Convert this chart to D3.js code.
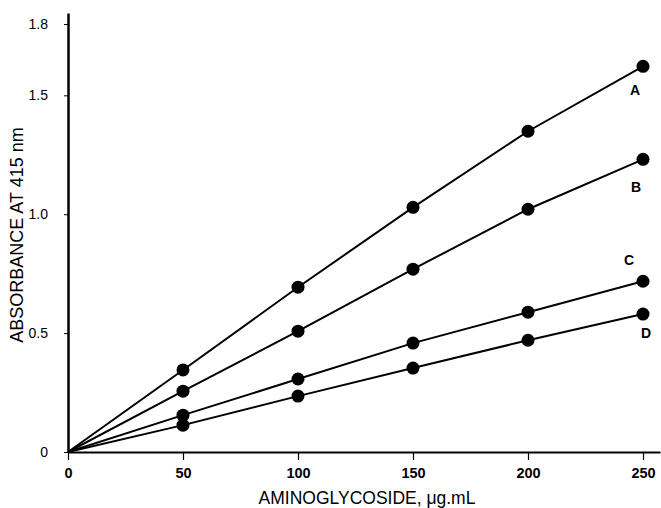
<!DOCTYPE html>
<html>
<head>
<meta charset="utf-8">
<script src="https://cdn.jsdelivr.net/npm/d3@7"></script>
<style>
  body { margin: 0; background: #fff; }
  svg { display: block; font-family: "Liberation Sans", Arial, sans-serif; }
</style>
</head>
<body>
<div id="chart"></div>
<script>
(function lineChart(){

  //data
  var doses = [0, 50, 100, 150, 200, 250];
  var seriesA = [0, 0.345, 0.693, 1.029, 1.349, 1.622];
  var seriesB = [0, 0.256, 0.508, 0.769, 1.021, 1.231];
  var seriesC = [0, 0.155, 0.307, 0.458, 0.588, 0.718];
  var seriesD = [0, 0.113, 0.235, 0.353, 0.470, 0.580];
  var seriesNames = ['A', 'B', 'C', 'D'];
  var xTicks = [0, 50, 100, 150, 200, 250];
  var yTicks = [0, 0.5, 1.0, 1.5, 1.8];

  var series = [seriesA, seriesB, seriesC, seriesD].map(function(vals, i){
    return {name: seriesNames[i], values: vals.map(function(v, j){ return {x: doses[j], y: v}; })};
  });

  //label offsets from the last point (style only)
  var labelOffset = {A: [-8, 29], B: [-7, 33], C: [-14, -16], D: [3, 24]};

  var width = 661, height = 508;
  var x = d3.scaleLinear().domain([0, 250]).range([68, 643]);
  var y = d3.scaleLinear().domain([0, 1.8]).range([452, 24]);

  var svg = d3.select('#chart')
    .append('svg')
    .attr('width', width)
    .attr('height', height);

  //axes (longer lines than the data range)
  var xAxisScale = x.copy().domain([0, x.invert(660)]).range([68, 660]);
  var yAxisScale = y.copy().domain([0, y.invert(13)]).range([452, 13]);

  var xAxis = svg.append('g')
    .attr('transform', 'translate(0,' + y(0) + ')')
    .call(d3.axisBottom(xAxisScale).tickValues(xTicks).tickSize(8).tickSizeOuter(0).tickPadding(8));
  xAxis.select('.domain').attr('stroke-width', 2);
  xAxis.selectAll('.tick line').attr('stroke-width', 1.2);
  xAxis.selectAll('text')
    .style('font-size', '14.5px')
    .style('font-weight', 'bold')
    .attr('fill', '#000');

  var yAxis = svg.append('g')
    .attr('transform', 'translate(' + x(0) + ',0)')
    .call(d3.axisLeft(yAxisScale).tickValues(yTicks).tickSize(4).tickSizeOuter(0).tickPadding(16)
      .tickFormat(function(d){ return d === 0 ? '0' : d3.format('.1f')(d); }));
  yAxis.select('.domain').attr('stroke-width', 2.5);
  yAxis.selectAll('text')
    .style('font-size', '14px')
    .attr('fill', '#000');

  //axis titles
  svg.append('text')
    .attr('x', 367)
    .attr('y', 504)
    .attr('text-anchor', 'middle')
    .style('font-size', '17.5px')
    .text('AMINOGLYCOSIDE, \u03bcg.mL');

  svg.append('text')
    .attr('transform', 'translate(23,235) rotate(-90)')
    .attr('text-anchor', 'middle')
    .style('font-size', '18px')
    .text('ABSORBANCE AT 415 nm');

  //lines
  var line = d3.line()
    .x(function(d){ return x(d.x); })
    .y(function(d){ return y(d.y); });

  svg.selectAll('.series-line')
    .data(series)
    .enter()
    .append('path')
    .attr('class', 'series-line')
    .attr('fill', 'none')
    .attr('stroke', '#000')
    .attr('stroke-width', 2)
    .attr('d', function(d){ return line(d.values); });

  //dots (not at origin)
  svg.selectAll('.series-dots')
    .data(series)
    .enter()
    .append('g')
    .selectAll('circle')
    .data(function(d){ return d.values.filter(function(p){ return p.x > 0; }); })
    .enter()
    .append('circle')
    .attr('cx', function(d){ return x(d.x); })
    .attr('cy', function(d){ return y(d.y); })
    .attr('r', 6.5)
    .attr('fill', '#000');

  //series labels
  svg.selectAll('.series-label')
    .data(series)
    .enter()
    .append('text')
    .attr('class', 'series-label')
    .attr('x', function(d){ var last = d.values[d.values.length - 1]; return x(last.x) + labelOffset[d.name][0]; })
    .attr('y', function(d){ var last = d.values[d.values.length - 1]; return y(last.y) + labelOffset[d.name][1]; })
    .attr('text-anchor', 'middle')
    .style('font-size', '14px')
    .style('font-weight', 'bold')
    .text(function(d){ return d.name; });

})();
</script>
</body>
</html>
